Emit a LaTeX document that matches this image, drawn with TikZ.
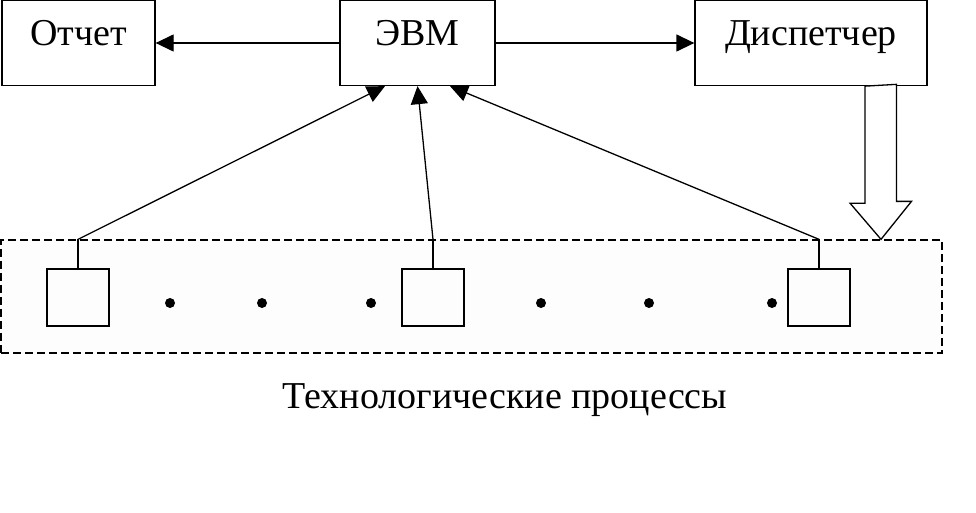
\documentclass[tikz,border=0pt]{standalone}
\usepackage{fontspec}
\setmainfont{Liberation Serif}
\usetikzlibrary{arrows.meta,calc,positioning}
\tikzset{
  >={Triangle[length=18pt,width=17pt]},
  flow/.style={->,line width=1.3pt},
  box/.style={draw,line width=1.3pt,minimum height=85pt,inner sep=0pt,
    font=\fontsize{38}{46}\selectfont,text height=26pt,text depth=21pt},
  procbox/.style={draw,line width=1.3pt,minimum width=62pt,minimum height=57pt,inner sep=0pt},
  zone/.style={draw,dash pattern=on 8pt off 4pt,line width=1.3pt,fill=black!0.7},
  caption/.style={font=\fontsize{38}{46}\selectfont,inner sep=0pt}
}
\begin{document}
\begin{tikzpicture}[x=1pt,y=-1pt]
    \useasboundingbox[fill=white] (0,0) rectangle (976,513);
    % top row
    \node[box,minimum width=153pt] (report) at (78.5,43) {Отчет};
    \node[box,minimum width=155pt] (evm) at (417.5,43) {ЭВМ};
    \node[box,minimum width=232pt] (disp) at (811,43) {Диспетчер};
    \draw[flow] (evm) -- (report);
    \draw[flow] (evm) -- (disp);
    % processes
    \node[zone,minimum width=941pt,minimum height=113pt,inner sep=0pt] (zone) at (471.5,296.5) {};
    \node[procbox] (p1) at (78,297.5) {};
    \node[procbox] (p2) at (433,297.5) {};
    \node[procbox] (p3) at (819,297.5) {};
    \foreach \x in {170,262,371,541,649,772}
      \fill (\x,303) circle (5pt);
    \coordinate (t1) at (p1.north |- zone.north);
    \coordinate (t2) at (p2.north |- zone.north);
    \coordinate (t3) at (p3.north |- zone.north);
    \draw[line width=1.3pt] (p1.north) -- (t1);
    \draw[line width=1.3pt] (p2.north) -- (t2);
    \draw[line width=1.3pt] (p3.north) -- (t3);
    \draw[flow] (t1) -- ($(evm.south)+(-32.5,0)$);
    \draw[flow] (t2) -- (evm.south);
    \draw[flow] (t3) -- ($(evm.south)+(32.5,0)$);
    % dispatcher control
    \draw[line width=1.3pt,fill=white] ($(disp.south)+(54,0)$) -- ++(0,117) -- ++(-15,0)
      -- ($(zone.north)+(409.5,0)$) -- ++(30.5,-38) -- ++(-15,0) -- ++(0,-117) -- cycle;
    \node[caption] (label) at (505,400) {Технологические процессы};
  \end{tikzpicture}
\end{document}
